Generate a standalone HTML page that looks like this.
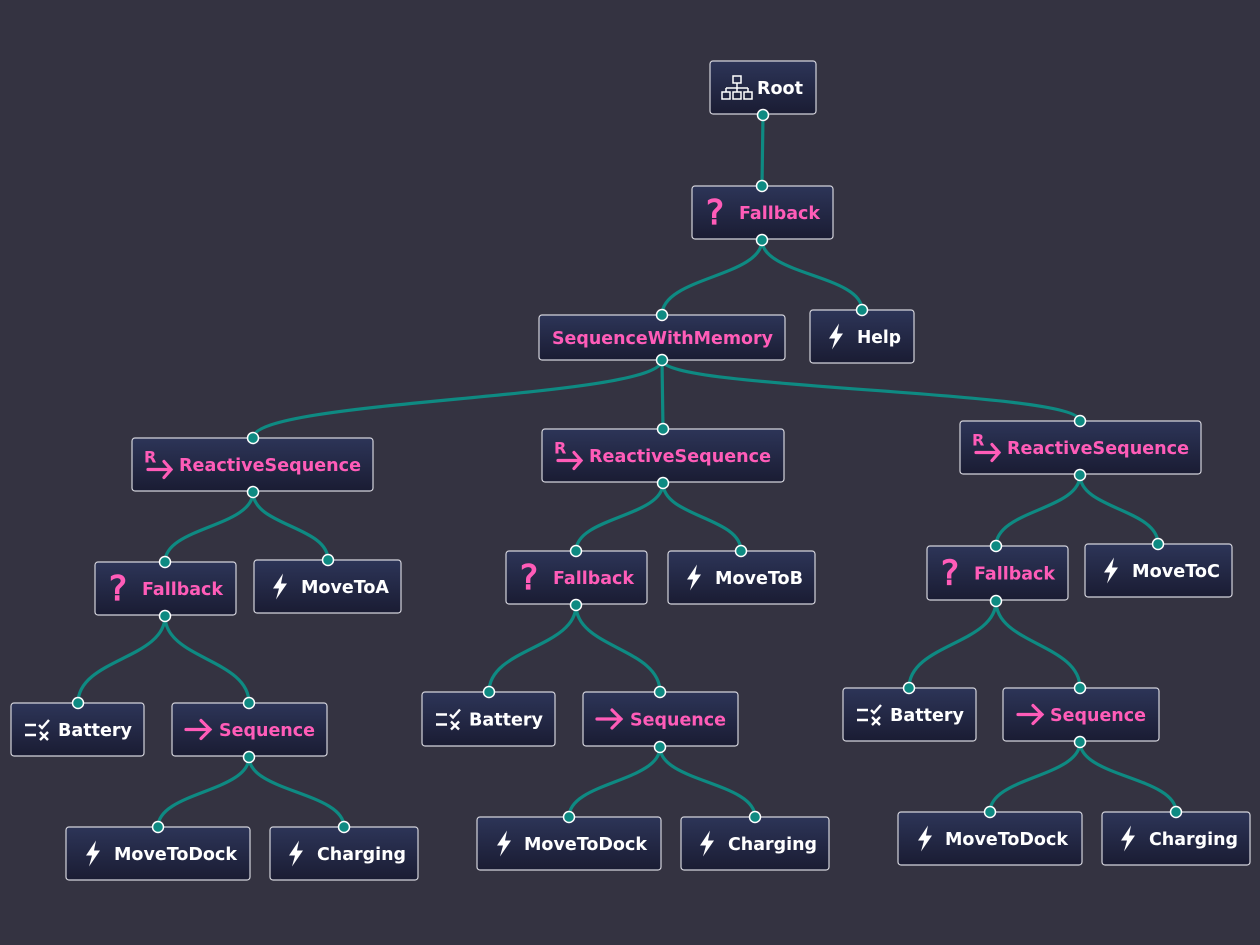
<!DOCTYPE html>
<html><head><meta charset="utf-8"><style>
html,body{margin:0;padding:0;background:#343341;}
svg{display:block}
text{font-family:"DejaVu Sans","Liberation Sans",sans-serif;font-weight:bold;font-size:17.5px}
.w{fill:#ffffff}.p{fill:#ff5cb8}
.q{fill:#ff5cb8;stroke:#ff5cb8;stroke-width:1.2;font-size:34px;font-weight:normal}
.n{fill:url(#g);stroke:#d4d4dc;stroke-width:1.2}
.e{fill:none;stroke:#0e8a82;stroke-width:3.2}
.h{fill:#0e8a82;stroke:#ffffff;stroke-width:1.5}
</style></head><body>
<svg width="1260" height="945" viewBox="0 0 1260 945" xmlns="http://www.w3.org/2000/svg">
<defs>
<linearGradient id="g" x1="0" y1="0" x2="0" y2="1"><stop offset="0" stop-color="#2d3558"/><stop offset="1" stop-color="#1a1c33"/></linearGradient>
<path id="bolt" d="M11,-13 L1,2 L7,2 L4,13 L15,-3 L9,-3 Z" fill="#fff"/>
<g id="arr" fill="none" stroke="#ff5cb8" stroke-width="3.2" stroke-linecap="round"><path d="M1,0 H25 M16,-9 L25,0 L16,9"/></g>
<g id="rarr"><text x="-1" y="-2" style="font-size:16px" class="p">R</text><g fill="none" stroke="#ff5cb8" stroke-width="3.2" stroke-linecap="round"><path d="M3,5 H26 M19,-3 L26,5 L19,13"/></g></g>
<g id="bat" fill="none" stroke="#fff" stroke-width="2.4"><path d="M0,-5 H11 M0,5 H11 M14,-5 L17,-2 L24,-10 M15,2 L23,10 M23,2 L15,10"/></g>
<g id="org" fill="none" stroke="#fff" stroke-width="1.5"><rect x="11" y="-12" width="8" height="7"/><rect x="0" y="4" width="8" height="7"/><rect x="11" y="4" width="8" height="7"/><rect x="22" y="4" width="8" height="7"/><path d="M15,-5 V0 M4,0 H26 M4,0 V4 M26,0 V4 M15,0 V4"/></g>
</defs>

<g class="e">
<path d="M763,115 L762,186"/>
<path d="M762,240 C762,277 662,277 662,315"/>
<path d="M762,240 C762,275 862,275 862,310"/>
<path d="M662,360 C662,399 253,399 253,438"/>
<path d="M662,360 L663,429"/>
<path d="M662,360 C662,390 1080,390 1080,421"/>
<path d="M253,492 C253,527 165,527 165,562"/>
<path d="M253,492 C253,526 328,526 328,560"/>
<path d="M165,616 C165,659 78,659 78,703"/>
<path d="M165,616 C165,659 249,659 249,703"/>
<path d="M249,757 C249,792 158,792 158,827"/>
<path d="M249,757 C249,792 344,792 344,827"/>
<path d="M663,483 C663,517 576,517 576,551"/>
<path d="M663,483 C663,517 741,517 741,551"/>
<path d="M576,605 C576,648 489,648 489,692"/>
<path d="M576,605 C576,648 660,648 660,692"/>
<path d="M660,747 C660,782 569,782 569,817"/>
<path d="M660,747 C660,782 755,782 755,817"/>
<path d="M1080,475 C1080,510 996,510 996,546"/>
<path d="M1080,475 C1080,509 1158,509 1158,544"/>
<path d="M996,601 C996,644 909,644 909,688"/>
<path d="M996,601 C996,644 1080,644 1080,688"/>
<path d="M1080,742 C1080,777 990,777 990,812"/>
<path d="M1080,742 C1080,777 1176,777 1176,812"/>
</g>

<rect class="n" x="710" y="61" width="106" height="53" rx="3"/>
<use href="#org" x="722" y="88"/><text class="w" x="757" y="94" textLength="46" lengthAdjust="spacingAndGlyphs">Root</text>

<rect class="n" x="692" y="186" width="141" height="53" rx="3"/>
<text class="q" x="706" y="224">?</text><text class="p" x="739" y="219" textLength="81" lengthAdjust="spacingAndGlyphs">Fallback</text>

<rect class="n" x="539" y="315" width="246" height="45" rx="3"/>
<text class="p" x="552" y="344" textLength="221" lengthAdjust="spacingAndGlyphs">SequenceWithMemory</text>

<rect class="n" x="810" y="310" width="104" height="53" rx="3"/>
<use href="#bolt" x="828" y="336.5"/><text class="w" x="857" y="343" textLength="44" lengthAdjust="spacingAndGlyphs">Help</text>

<rect class="n" x="132" y="438" width="241" height="53" rx="3"/>
<use href="#rarr" x="145" y="464.5"/><text class="p" x="179" y="471" textLength="182" lengthAdjust="spacingAndGlyphs">ReactiveSequence</text>
<rect class="n" x="542" y="429" width="242" height="53" rx="3"/>
<use href="#rarr" x="555" y="455.5"/><text class="p" x="589" y="462" textLength="182" lengthAdjust="spacingAndGlyphs">ReactiveSequence</text>
<rect class="n" x="960" y="421" width="241" height="53" rx="3"/>
<use href="#rarr" x="973" y="447.5"/><text class="p" x="1007" y="454" textLength="182" lengthAdjust="spacingAndGlyphs">ReactiveSequence</text>

<rect class="n" x="95" y="562" width="141" height="53" rx="3"/>
<text class="q" x="109" y="600">?</text><text class="p" x="142" y="595" textLength="81" lengthAdjust="spacingAndGlyphs">Fallback</text>
<rect class="n" x="254" y="560" width="147" height="53" rx="3"/>
<use href="#bolt" x="272" y="586.5"/><text class="w" x="301" y="593" textLength="88" lengthAdjust="spacingAndGlyphs">MoveToA</text>

<rect class="n" x="506" y="551" width="141" height="53" rx="3"/>
<text class="q" x="520" y="589">?</text><text class="p" x="553" y="584" textLength="81" lengthAdjust="spacingAndGlyphs">Fallback</text>
<rect class="n" x="668" y="551" width="147" height="53" rx="3"/>
<use href="#bolt" x="686" y="577.5"/><text class="w" x="715" y="584" textLength="88" lengthAdjust="spacingAndGlyphs">MoveToB</text>

<rect class="n" x="927" y="546" width="141" height="54" rx="3"/>
<text class="q" x="941" y="584.5">?</text><text class="p" x="974" y="579.5" textLength="81" lengthAdjust="spacingAndGlyphs">Fallback</text>
<rect class="n" x="1085" y="544" width="147" height="53" rx="3"/>
<use href="#bolt" x="1103" y="570.5"/><text class="w" x="1132" y="577" textLength="88" lengthAdjust="spacingAndGlyphs">MoveToC</text>

<rect class="n" x="11" y="703" width="133" height="53" rx="3"/>
<use href="#bat" x="25" y="730"/><text class="w" x="58" y="736" textLength="74" lengthAdjust="spacingAndGlyphs">Battery</text>
<rect class="n" x="172" y="703" width="155" height="53" rx="3"/>
<use href="#arr" x="185" y="729.5"/><text class="p" x="219" y="736" textLength="96" lengthAdjust="spacingAndGlyphs">Sequence</text>

<rect class="n" x="422" y="692" width="133" height="54" rx="3"/>
<use href="#bat" x="436" y="719.5"/><text class="w" x="469" y="725.5" textLength="74" lengthAdjust="spacingAndGlyphs">Battery</text>
<rect class="n" x="583" y="692" width="155" height="54" rx="3"/>
<use href="#arr" x="596" y="719"/><text class="p" x="630" y="725.5" textLength="96" lengthAdjust="spacingAndGlyphs">Sequence</text>

<rect class="n" x="843" y="688" width="133" height="53" rx="3"/>
<use href="#bat" x="857" y="715"/><text class="w" x="890" y="721" textLength="74" lengthAdjust="spacingAndGlyphs">Battery</text>
<rect class="n" x="1003" y="688" width="156" height="53" rx="3"/>
<use href="#arr" x="1017" y="714.5"/><text class="p" x="1050" y="721" textLength="96" lengthAdjust="spacingAndGlyphs">Sequence</text>

<rect class="n" x="66" y="827" width="184" height="53" rx="3"/>
<use href="#bolt" x="85" y="853.5"/><text class="w" x="114" y="860" textLength="123" lengthAdjust="spacingAndGlyphs">MoveToDock</text>
<rect class="n" x="270" y="827" width="148" height="53" rx="3"/>
<use href="#bolt" x="288" y="853.5"/><text class="w" x="317" y="860" textLength="89" lengthAdjust="spacingAndGlyphs">Charging</text>

<rect class="n" x="477" y="817" width="184" height="53" rx="3"/>
<use href="#bolt" x="496" y="843.5"/><text class="w" x="524" y="850" textLength="123" lengthAdjust="spacingAndGlyphs">MoveToDock</text>
<rect class="n" x="681" y="817" width="148" height="53" rx="3"/>
<use href="#bolt" x="699" y="843.5"/><text class="w" x="728" y="850" textLength="89" lengthAdjust="spacingAndGlyphs">Charging</text>

<rect class="n" x="898" y="812" width="184" height="53" rx="3"/>
<use href="#bolt" x="917" y="838.5"/><text class="w" x="945" y="845" textLength="123" lengthAdjust="spacingAndGlyphs">MoveToDock</text>
<rect class="n" x="1102" y="812" width="148" height="53" rx="3"/>
<use href="#bolt" x="1120" y="838.5"/><text class="w" x="1149" y="845" textLength="89" lengthAdjust="spacingAndGlyphs">Charging</text>

<g class="h">
<circle cx="763" cy="115" r="5.5"/><circle cx="762" cy="186" r="5.5"/><circle cx="762" cy="240" r="5.5"/>
<circle cx="662" cy="315" r="5.5"/><circle cx="862" cy="310" r="5.5"/><circle cx="662" cy="360" r="5.5"/>
<circle cx="253" cy="438" r="5.5"/><circle cx="663" cy="429" r="5.5"/><circle cx="1080" cy="421" r="5.5"/>
<circle cx="253" cy="492" r="5.5"/><circle cx="663" cy="483" r="5.5"/><circle cx="1080" cy="475" r="5.5"/>
<circle cx="165" cy="562" r="5.5"/><circle cx="328" cy="560" r="5.5"/><circle cx="165" cy="616" r="5.5"/>
<circle cx="576" cy="551" r="5.5"/><circle cx="741" cy="551" r="5.5"/><circle cx="576" cy="605" r="5.5"/>
<circle cx="996" cy="546" r="5.5"/><circle cx="1158" cy="544" r="5.5"/><circle cx="996" cy="601" r="5.5"/>
<circle cx="78" cy="703" r="5.5"/><circle cx="249" cy="703" r="5.5"/><circle cx="249" cy="757" r="5.5"/>
<circle cx="489" cy="692" r="5.5"/><circle cx="660" cy="692" r="5.5"/><circle cx="660" cy="747" r="5.5"/>
<circle cx="909" cy="688" r="5.5"/><circle cx="1080" cy="688" r="5.5"/><circle cx="1080" cy="742" r="5.5"/>
<circle cx="158" cy="827" r="5.5"/><circle cx="344" cy="827" r="5.5"/>
<circle cx="569" cy="817" r="5.5"/><circle cx="755" cy="817" r="5.5"/>
<circle cx="990" cy="812" r="5.5"/><circle cx="1176" cy="812" r="5.5"/>
</g>
</svg>
</body></html>
